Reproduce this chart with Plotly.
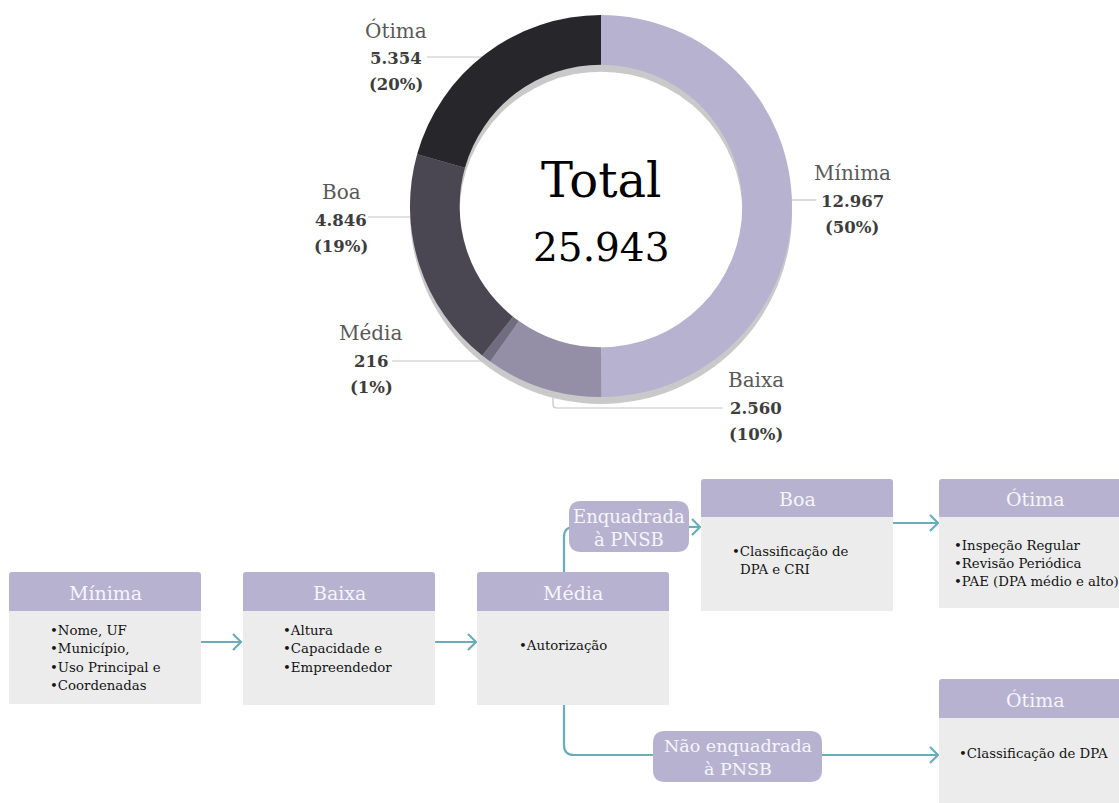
import plotly.graph_objects as go

W, H = 1119, 803

# ---------------- data ----------------
categories = ["Mínima", "Baixa", "Média", "Boa", "Ótima"]
values = [12967, 2560, 216, 4846, 5354]
percent_labels = ["50%", "10%", "1%", "19%", "20%"]
slice_colors = ["#b6b2d0", "#948fa7", "#716d80", "#4a4753", "#27262b"]
center_title = "Total"

flow_titles = ["Mínima", "Baixa", "Média", "Boa", "Ótima", "Ótima"]
flow_items = [
    [["Nome, UF"], ["Município,"], ["Uso Principal e"], ["Coordenadas"]],
    [["Altura"], ["Capacidade e"], ["Empreendedor"]],
    [["Autorização"]],
    [["Classificação de", "DPA e CRI"]],
    [["Inspeção Regular"], ["Revisão Periódica"], ["PAE (DPA médio e alto)"]],
    [["Classificação de DPA"]],
]
branch_labels = ["Enquadrada<br>à PNSB", "Não enquadrada<br>à PNSB"]

# ---------------- style / layout ----------------
FONT = "DejaVu Serif"
LAV = "#b6b2d0"
BODY = "#ececec"
TEAL = "#6aadb9"

def fmt(n):
    return f"{n:,}".replace(",", ".")

# donut geometry (pixels)
cx, cy, R = 601, 206, 191
hole = 0.74
def dom(x0, x1, y0, y1):
    return dict(x=[x0 / W, x1 / W], y=[1 - y1 / H, 1 - y0 / H])

fig = go.Figure()
# invisible cartesian trace to define the pixel-based canvas
fig.add_trace(go.Scatter(x=[0, W], y=[0, H], mode="markers",
                         marker=dict(opacity=0), hoverinfo="skip", showlegend=False))
# shadow ring
fig.add_trace(go.Pie(values=[1], hole=hole, sort=False, textinfo="none",
                     marker=dict(colors=["#c9c9c9"], line=dict(width=0)),
                     domain=dom(cx - R, cx + R, cy - R + 7, cy + R + 7),
                     hoverinfo="skip", showlegend=False))
# main donut
fig.add_trace(go.Pie(labels=categories, values=values, hole=hole, sort=False,
                     direction="clockwise", rotation=0, textinfo="none",
                     marker=dict(colors=slice_colors, line=dict(width=0)),
                     domain=dom(cx - R, cx + R, cy - R, cy + R),
                     showlegend=False))

shapes = []
ann = []

# center text
total = sum(values)
ann.append(dict(x=cx, y=180, text=center_title, showarrow=False, xref="x", yref="y",
                font=dict(family=FONT, size=48, color="#000")))
ann.append(dict(x=cx, y=247, text=fmt(total), showarrow=False, xref="x", yref="y",
                font=dict(family=FONT, size=39, color="#000")))

# donut labels: (center x, name y) in category order
label_pos = {"Mínima": (852, 173), "Baixa": (756, 380), "Média": (371, 333),
             "Boa": (341, 192), "Ótima": (396, 30)}
for cat, val, pct in zip(categories, values, percent_labels):
    lx, ly = label_pos[cat]
    ann.append(dict(x=lx, y=ly, text=cat, showarrow=False, xref="x", yref="y",
                    font=dict(family=FONT, size=20, color="#595959")))
    ann.append(dict(x=lx, y=ly + 28, text=f"<b>{fmt(val)}</b>", showarrow=False,
                    xref="x", yref="y", font=dict(family=FONT, size=16.5, color="#3d3d3d")))
    ann.append(dict(x=lx, y=ly + 54, text=f"<b>({pct})</b>", showarrow=False,
                    xref="x", yref="y", font=dict(family=FONT, size=16.5, color="#3d3d3d")))

lead = dict(color="#c3c3c3", width=1.2)
leaders = [
    "M 427 57 L 484 57",
    "M 368 217 L 412 217",
    "M 392 361 L 492 361",
    "M 792 200 L 816 200",
    "M 553 392 L 553 404 Q 553 408 557 408 L 723 408",
]
for p in leaders:
    shapes.append(dict(type="path", path=p, xref="x", yref="y", line=lead, layer="below"))

# ---------------- flowchart ----------------
box_w = 192
boxes = [  # (x0, header top, header bottom, body bottom)
    (9, 572, 611, 704),
    (243, 572, 611, 705),
    (477, 572, 611, 705),
    (701, 479, 517, 611),
    (939, 479, 517, 608),
    (939, 679, 718, 810),
]
text_pos = [  # (x left, first line y, line step)
    (48, 630, 18.5),
    (281, 630, 18.5),
    (517, 645, 18.5),
    (730, 551, 18.5),
    (952, 545, 18.3),
    (957, 753, 18.5),
]

teal = dict(color=TEAL, width=2.2)
def chevron(tx, ty):
    return f"M {tx-8} {ty-8} L {tx} {ty} L {tx-8} {ty+8}"

connectors = [
    "M 201 642 L 241 642", chevron(241, 642),
    "M 435 642 L 476 642", chevron(476, 642),
    "M 564 572 L 564 537 Q 564 527 574 527 L 590 527",
    "M 680 527 L 700 527", chevron(700, 527),
    "M 893 523 L 938 523", chevron(938, 523),
    "M 564 705 L 564 745 Q 564 755 574 755 L 670 755",
    "M 810 755 L 938 755", chevron(938, 755),
]
for p in connectors:
    shapes.append(dict(type="path", path=p, xref="x", yref="y", line=teal))

def header_path(x0, y0, x1, y1, r=3):
    return (f"M {x0} {y1} L {x0} {y0+r} Q {x0} {y0} {x0+r} {y0} L {x1-r} {y0} "
            f"Q {x1} {y0} {x1} {y0+r} L {x1} {y1} Z")

def rrect(x0, y0, x1, y1, r=12):
    return (f"M {x0+r} {y0} L {x1-r} {y0} Q {x1} {y0} {x1} {y0+r} L {x1} {y1-r} "
            f"Q {x1} {y1} {x1-r} {y1} L {x0+r} {y1} Q {x0} {y1} {x0} {y1-r} "
            f"L {x0} {y0+r} Q {x0} {y0} {x0+r} {y0} Z")

for (x0, ht, hb, bb), title, items, (tx, ty, step) in zip(boxes, flow_titles, flow_items, text_pos):
    x1 = x0 + box_w
    shapes.append(dict(type="rect", x0=x0, x1=x1, y0=hb, y1=bb, xref="x", yref="y",
                       fillcolor=BODY, line=dict(width=0)))
    shapes.append(dict(type="path", path=header_path(x0, ht, x1, hb), xref="x", yref="y",
                       fillcolor=LAV, line=dict(width=0)))
    ann.append(dict(x=x0 + box_w / 2, y=(ht + hb) / 2 + 1, text=title, showarrow=False,
                    xref="x", yref="y", xanchor="center", yanchor="middle",
                    font=dict(family=FONT, size=19, color="#f6f5fa")))
    k = 0
    for item in items:
        for j, line in enumerate(item):
            txt = ("•" + line) if j == 0 else line
            ann.append(dict(x=tx if j == 0 else tx + 8, y=ty + k * step, text=txt,
                            showarrow=False, xref="x", yref="y", xanchor="left",
                            yanchor="middle", font=dict(family=FONT, size=13.3, color="#141414")))
            k += 1

# branch label boxes
branch_boxes = [(569, 501, 689, 552), (653, 731, 822, 782)]
branch_sizes = [18, 17.5]
for (x0, y0, x1, y1), lab, fs in zip(branch_boxes, branch_labels, branch_sizes):
    shapes.append(dict(type="path", path=rrect(x0, y0, x1, y1), xref="x", yref="y",
                       fillcolor=LAV, line=dict(width=0)))
    ann.append(dict(x=(x0 + x1) / 2, y=(y0 + y1) / 2 + 1, text=lab, showarrow=False,
                    xref="x", yref="y", xanchor="center", yanchor="middle",
                    font=dict(family=FONT, size=fs, color="#f6f5fa")))

fig.update_layout(
    width=W, height=H, margin=dict(l=0, r=0, t=0, b=0),
    paper_bgcolor="white", plot_bgcolor="white",
    xaxis=dict(range=[0, W], visible=False, fixedrange=True),
    yaxis=dict(range=[H, 0], visible=False, fixedrange=True),
    shapes=shapes, annotations=ann, showlegend=False,
)

fig.write_html("out.html", config={"displayModeBar": False},
               post_script="document.body.style.margin='0px';document.body.style.overflow='hidden';")
